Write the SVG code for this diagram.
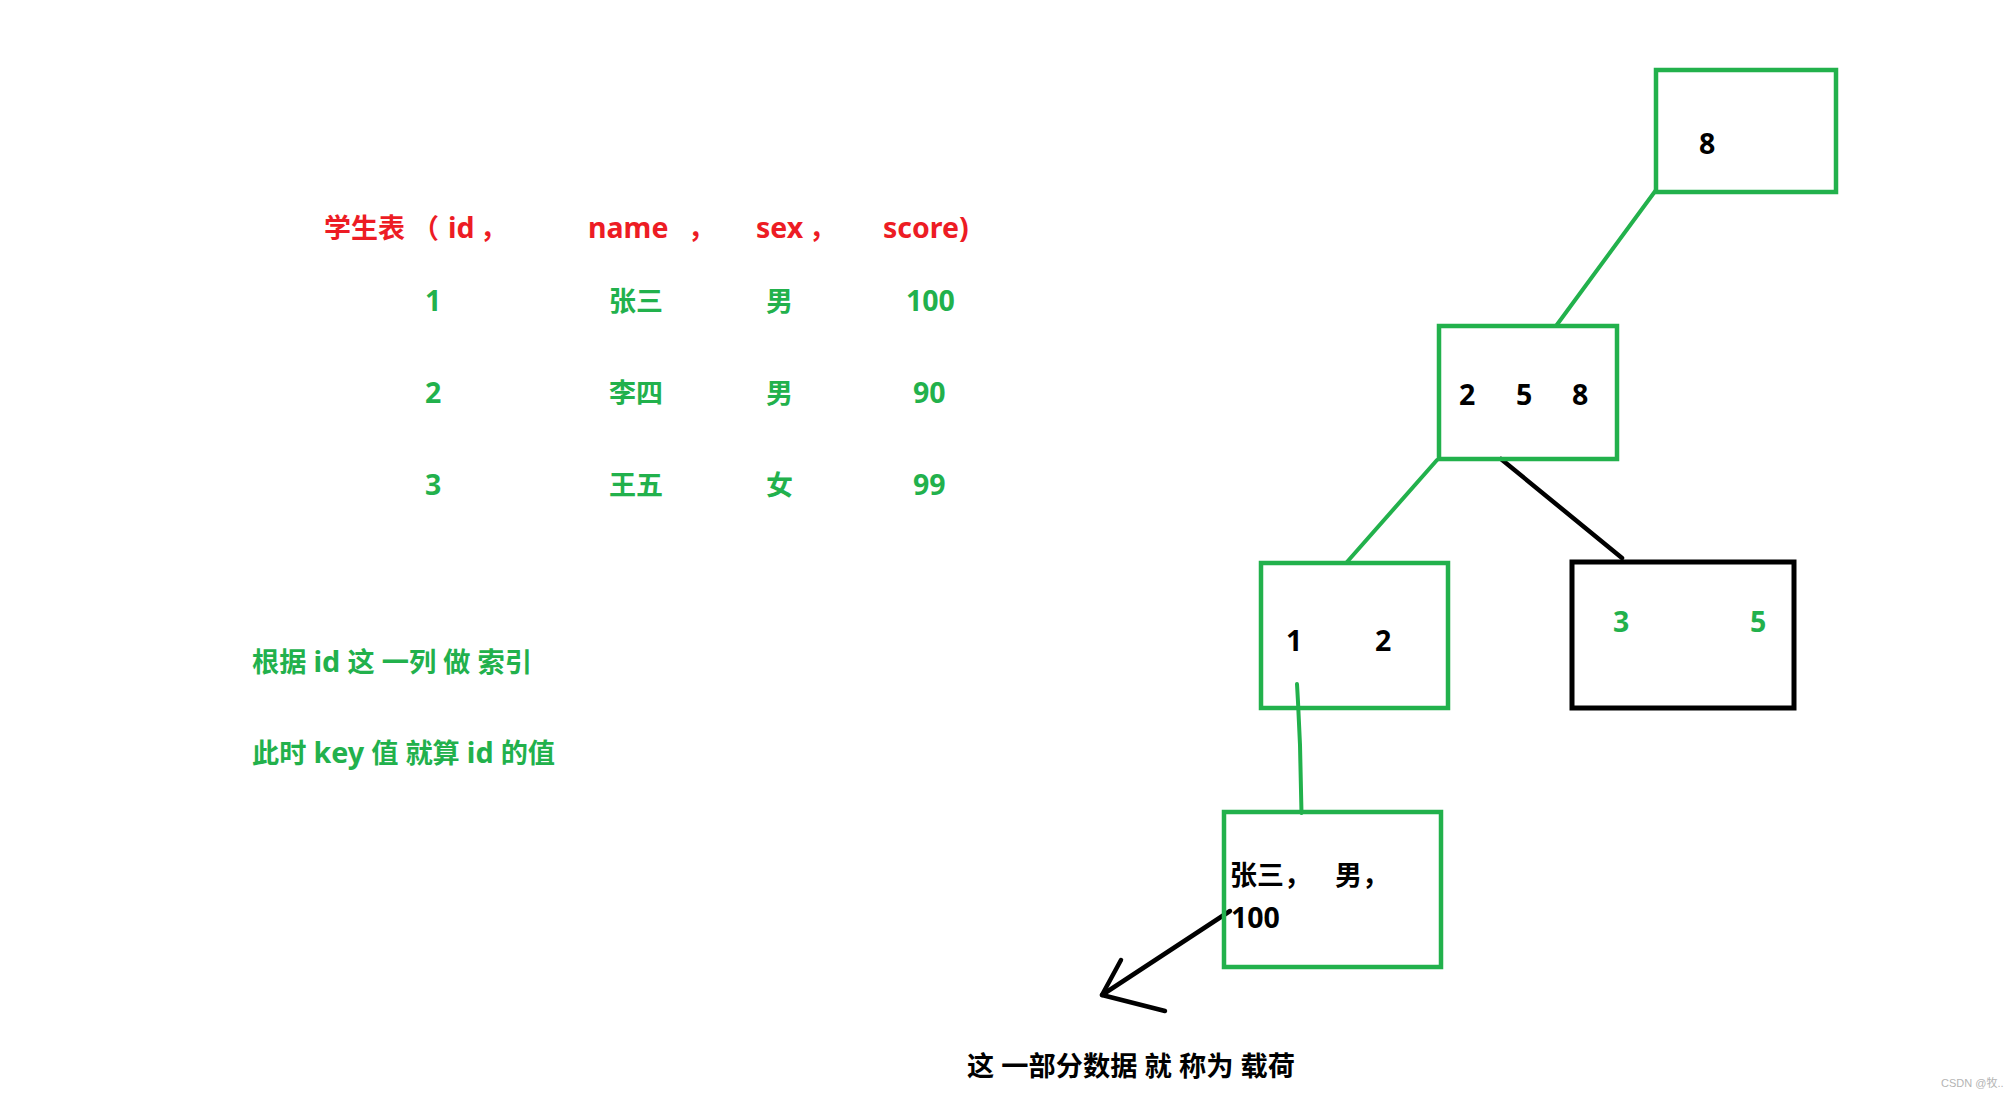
<svg xmlns="http://www.w3.org/2000/svg" width="2012" height="1096" viewBox="0 0 2012 1096">
<style>
text{font-family:"Noto Sans","Noto Sans CJK SC",sans-serif;font-weight:bold;font-size:27px}
.l{font-size:28.5px}
.r{fill:#ED1C24}
.g{fill:#22B14C}
.k{fill:#000}
.gbox{fill:none;stroke:#22B14C;stroke-width:4.5}
.kbox{fill:none;stroke:#000;stroke-width:5}
.gl{fill:none;stroke:#22B14C;stroke-width:4;stroke-linecap:round;stroke-linejoin:round}
.kl{fill:none;stroke:#000;stroke-width:4.5;stroke-linecap:round;stroke-linejoin:round}
.wm{font-family:"Liberation Sans","Noto Sans CJK SC",sans-serif;font-weight:normal;font-size:11px;fill:#b4b4b4}
</style>
<rect width="2012" height="1096" fill="#fff"/>
<g id="table">
<g id="header" class="r">
<text x="324" y="238">学生表</text>
<text x="412" y="238">（</text>
<text class="l" x="448" y="238">id</text>
<text x="480" y="238">，</text>
<text class="l" x="588" y="238">name</text>
<text x="688" y="238">，</text>
<text class="l" x="756" y="238">sex</text>
<text x="809" y="238">，</text>
<text class="l" x="883" y="238">score)</text>
</g>
<g id="row1" class="g">
<text class="l" x="425" y="311">1</text>
<text x="609" y="311">张三</text>
<text x="766" y="311">男</text>
<text class="l" x="906" y="311">100</text>
</g>
<g id="row2" class="g">
<text class="l" x="425" y="403">2</text>
<text x="609" y="403">李四</text>
<text x="766" y="403">男</text>
<text class="l" x="913" y="403">90</text>
</g>
<g id="row3" class="g">
<text class="l" x="425" y="495">3</text>
<text x="609" y="495">王五</text>
<text x="766" y="495">女</text>
<text class="l" x="913" y="495">99</text>
</g>
</g>
<g id="notes" class="g">
<text x="252" y="672" textLength="280" lengthAdjust="spacingAndGlyphs">根据 <tspan class="l">id</tspan> 这 一列 做 索引</text>
<text x="252" y="763" textLength="303" lengthAdjust="spacingAndGlyphs">此时 <tspan class="l">key</tspan> 值 就算 <tspan class="l">id</tspan> 的值</text>
</g>
<g id="connectors">
<line class="gl" x1="1656" y1="190" x2="1556" y2="326"/>
<line class="gl" x1="1437" y1="460" x2="1347" y2="562"/>
<line class="kl" x1="1501" y1="459" x2="1622" y2="558"/>
<path class="gl" d="M1297 684 L1298 702 L1300 745 L1301.5 813"/>
<path class="kl" d="M1230 911 L1102 995"/>
<path class="kl" d="M1121 960 L1102 995 L1165 1011"/>
</g>
<g id="node-root">
<rect class="gbox" x="1656" y="70" width="180" height="122"/>
<text class="k l" x="1699" y="154">8</text>
</g>
<g id="node-mid">
<rect class="gbox" x="1439" y="326" width="178" height="133"/>
<text class="k l" x="1459" y="405">2</text>
<text class="k l" x="1516" y="405">5</text>
<text class="k l" x="1572" y="405">8</text>
</g>
<g id="node-leaf12">
<rect class="gbox" x="1261" y="563" width="187" height="145"/>
<text class="k l" x="1286" y="651">1</text>
<text class="k l" x="1375" y="651">2</text>
</g>
<g id="node-leaf35">
<rect class="kbox" x="1572" y="562" width="222" height="146"/>
<text class="g l" x="1613" y="632">3</text>
<text class="g l" x="1750" y="632">5</text>
</g>
<g id="node-payload">
<rect class="gbox" x="1224" y="812" width="217" height="155"/>
<text class="k" x="1230" y="885">张三，</text>
<text class="k" x="1335" y="885">男，</text>
<text class="k l" x="1231" y="928">100</text>
</g>
<g id="caption">
<text class="k" x="967" y="1076" textLength="328" lengthAdjust="spacingAndGlyphs">这 一部分数据 就 称为 载荷</text>
</g>
<text class="wm" x="1941" y="1087">CSDN @牧..</text>
</svg>
